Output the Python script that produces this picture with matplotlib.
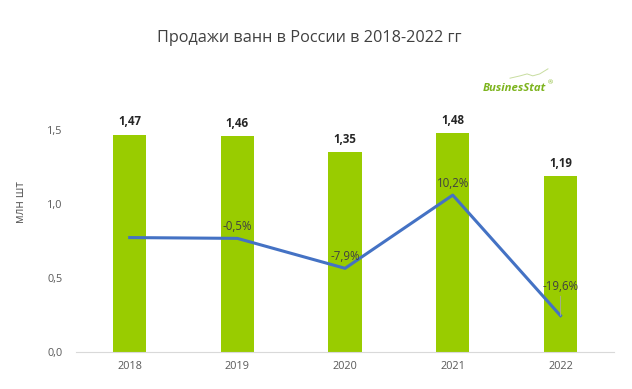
import matplotlib
matplotlib.use("Agg")
import matplotlib.pyplot as plt
import numpy as np

years = ["2018", "2019", "2020", "2021", "2022"]
sales = [1.47, 1.46, 1.35, 1.48, 1.19]
growth = [-0.3, -0.5, -7.9, 10.2, -19.6]
growth_labels = ["", "-0,5%", "-7,9%", "10,2%", "-19,6%"]

plt.rcParams['font.family'] = ['Open Sans', 'DejaVu Sans']

fig = plt.figure(figsize=(6.32, 3.89), dpi=100)
ax = fig.add_axes([0.120, 0.095, 0.852, 0.684])
x = np.arange(len(years))
bars = ax.bar(x, sales, width=0.31, color="#99CC00", zorder=2)
ymax = 1.8
ax.set_ylim(0, ymax)
ax.set_xlim(-0.5, len(years) - 0.5)
ax.set_yticks([0, 0.5, 1.0, 1.5])
ax.set_yticklabels(["0,0", "0,5", "1,0", "1,5"])
ax.set_xticks(x)
ax.set_xticklabels(years)
ax.tick_params(axis='both', length=0, labelsize=7.8, colors="#595959")
ax.tick_params(axis='y', pad=9.5)
ax.tick_params(axis='x', pad=6.5)
for s in ["top", "right", "left"]:
    ax.spines[s].set_visible(False)
ax.spines["bottom"].set_color("#D9D9D9")

for xi, v in zip(x, sales):
    ax.annotate(f"{v:.2f}".replace(".", ","), (xi, v), xytext=(0, 4.5), textcoords="offset points",
                ha="center", va="bottom", fontsize=8.3, fontweight="bold", color="#262626")

ax2 = ax.twinx()
px_per_unit = 148.0
px_per_pct = 4.05
g0 = -28.6
span = ymax * px_per_unit / px_per_pct
ax2.set_ylim(g0, g0 + span)
ax2.plot(x, growth, color="#4472C4", linewidth=2.2, zorder=3)
ax2.axis("off")
for i, (xi, g, lab) in enumerate(zip(x, growth, growth_labels)):
    if not lab:
        continue
    if i == len(x) - 1:
        ax2.annotate(lab, (xi, g), xytext=(0, 16), textcoords="offset points",
                     ha="center", va="bottom", fontsize=8.3, color="#404040",
                     arrowprops=dict(arrowstyle="-", color="#A6A6A6", lw=0.6,
                                     shrinkA=0, shrinkB=0))
    else:
        ax2.annotate(lab, (xi, g), xytext=(0, 4), textcoords="offset points",
                     ha="center", va="bottom", fontsize=8.3, color="#404040")

fig.text(0.49, 0.902, "Продажи ванн в России в 2018-2022 гг", ha="center", va="center",
         fontsize=11.7, color="#404040")
fig.text(0.032, 0.481, "млн шт", rotation=90, ha="center", va="center",
         fontsize=8.5, color="#595959")
fig.text(0.814, 0.772, "BusinesStat", ha="center", va="center", fontsize=8.2,
         fontweight="bold", fontstyle="italic", color="#7DB41E")
fig.text(0.871, 0.788, "®", ha="center", va="center", fontsize=4.5, color="#7DB41E")
# logo swoosh
sx = np.array([0.807, 0.823, 0.834, 0.843, 0.854, 0.867])
sy = np.array([0.799, 0.805, 0.810, 0.805, 0.810, 0.823])
fig.add_artist(plt.Line2D(sx, sy, transform=fig.transFigure, color="#C8DDA0", lw=0.7))

fig.savefig("out.png", dpi=100)
